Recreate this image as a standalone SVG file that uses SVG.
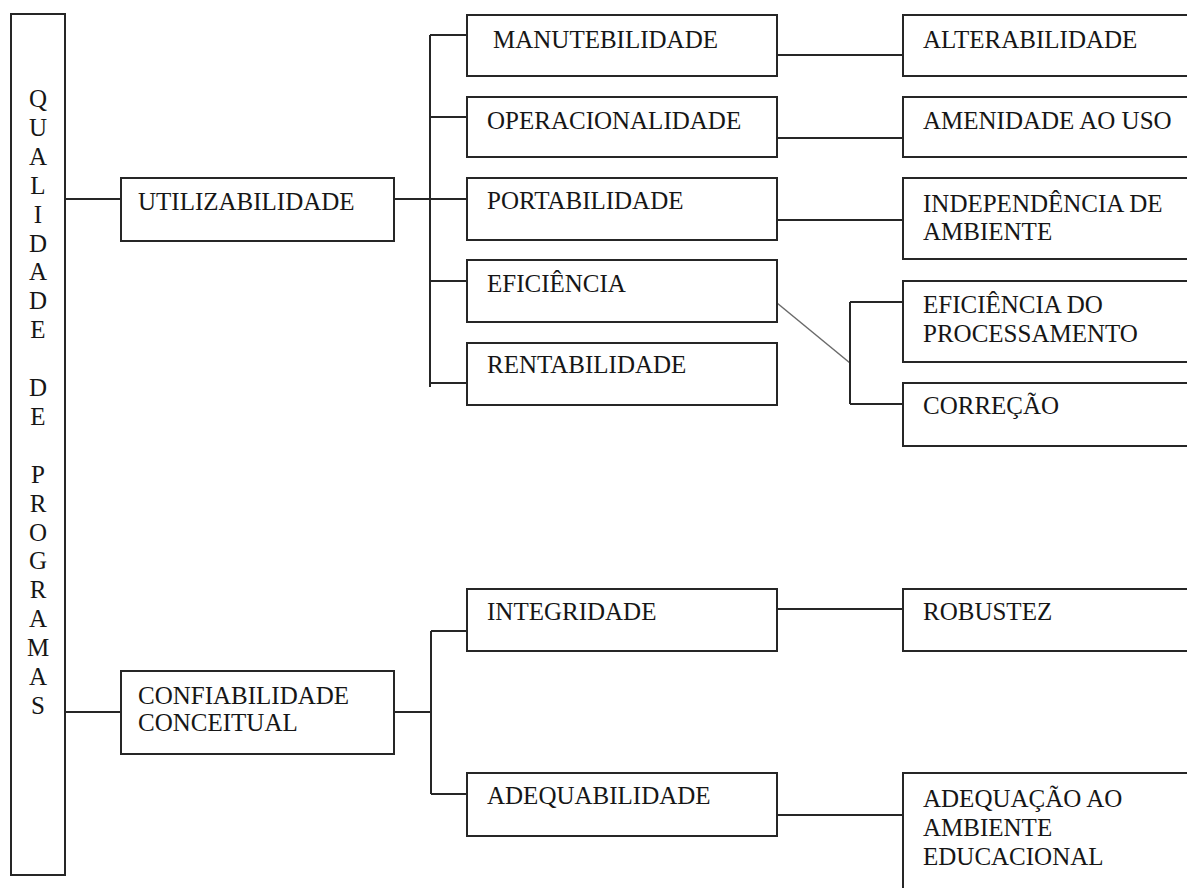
<svg xmlns="http://www.w3.org/2000/svg" width="1187" height="888" viewBox="0 0 1187 888">
<style>
.box{fill:#fff;stroke:#262626;stroke-width:2}
.t{font-family:"Liberation Serif","Times New Roman",serif;font-size:25px;fill:#161616}
.v{font-family:"Liberation Serif","Times New Roman",serif;font-size:25px;fill:#161616;text-anchor:middle}
.c{fill:none;stroke:#262626;stroke-width:2}
.d{fill:none;stroke:#6a6a6a;stroke-width:1.5}
</style>
<rect width="1187" height="888" fill="#fff"/>
<g id="connectors">
<path class="c" d="M65 199H121"/>
<path class="c" d="M65 712H121"/>
<path class="c" d="M394 199H467"/>
<path class="c" d="M430 35V387"/>
<path class="c" d="M430 35H467M430 117H467M430 281H467M430 383H467"/>
<path class="c" d="M777 55H903M777 138H903M777 220H903"/>
<path class="d" d="M777 303L850 363"/>
<path class="c" d="M850 302V404M850 302H903M850 404H903"/>
<path class="c" d="M394 712H431M431 631V794M431 631H467M431 794H467"/>
<path class="c" d="M777 609H903M777 815H903"/>
</g>
<g id="qualidade">
<rect class="box" x="11" y="14" width="54" height="861"/>
<text class="v" x="38" y="107">Q</text>
<text class="v" x="38" y="135.9">U</text>
<text class="v" x="38" y="164.8">A</text>
<text class="v" x="38" y="193.7">L</text>
<text class="v" x="38" y="222.6">I</text>
<text class="v" x="38" y="251.5">D</text>
<text class="v" x="38" y="280.4">A</text>
<text class="v" x="38" y="309.3">D</text>
<text class="v" x="38" y="338.2">E</text>
<text class="v" x="38" y="396">D</text>
<text class="v" x="38" y="424.9">E</text>
<text class="v" x="38" y="482.7">P</text>
<text class="v" x="38" y="511.6">R</text>
<text class="v" x="38" y="540.5">O</text>
<text class="v" x="38" y="569.4">G</text>
<text class="v" x="38" y="598.3">R</text>
<text class="v" x="38" y="627.2">A</text>
<text class="v" x="38" y="656.1">M</text>
<text class="v" x="38" y="685">A</text>
<text class="v" x="38" y="713.9">S</text>
</g>
<g id="utilizabilidade">
<rect class="box" x="121" y="178" width="273" height="63"/>
<text class="t" x="138" y="210">UTILIZABILIDADE</text>
</g>
<g id="confiabilidade">
<rect class="box" x="121" y="671" width="273" height="83"/>
<text class="t" x="138" y="704">CONFIABILIDADE</text>
<text class="t" x="138" y="731">CONCEITUAL</text>
</g>
<g id="manutebilidade">
<rect class="box" x="467" y="15" width="310" height="61"/>
<text class="t" x="493" y="48">MANUTEBILIDADE</text>
</g>
<g id="operacionalidade">
<rect class="box" x="467" y="97" width="310" height="60"/>
<text class="t" x="487" y="129">OPERACIONALIDADE</text>
</g>
<g id="portabilidade">
<rect class="box" x="467" y="178" width="310" height="62"/>
<text class="t" x="487" y="209">PORTABILIDADE</text>
</g>
<g id="eficiencia">
<rect class="box" x="467" y="260" width="310" height="62"/>
<text class="t" x="487" y="292">EFICIÊNCIA</text>
</g>
<g id="rentabilidade">
<rect class="box" x="467" y="343" width="310" height="62"/>
<text class="t" x="487" y="373">RENTABILIDADE</text>
</g>
<g id="integridade">
<rect class="box" x="467" y="589" width="310" height="62"/>
<text class="t" x="487" y="620">INTEGRIDADE</text>
</g>
<g id="adequabilidade">
<rect class="box" x="467" y="773" width="310" height="63"/>
<text class="t" x="487" y="804">ADEQUABILIDADE</text>
</g>
<g id="alterabilidade">
<rect class="box" x="903" y="15" width="300" height="61"/>
<text class="t" x="923" y="48">ALTERABILIDADE</text>
</g>
<g id="amenidade">
<rect class="box" x="903" y="97" width="300" height="60"/>
<text class="t" x="923" y="129">AMENIDADE AO USO</text>
</g>
<g id="independencia">
<rect class="box" x="903" y="178" width="300" height="81"/>
<text class="t" x="923" y="212">INDEPENDÊNCIA DE</text>
<text class="t" x="923" y="240">AMBIENTE</text>
</g>
<g id="eficiencia-processamento">
<rect class="box" x="903" y="281" width="300" height="81"/>
<text class="t" x="923" y="313">EFICIÊNCIA DO</text>
<text class="t" x="923" y="342">PROCESSAMENTO</text>
</g>
<g id="correcao">
<rect class="box" x="903" y="383" width="300" height="63"/>
<text class="t" x="923" y="414">CORREÇÃO</text>
</g>
<g id="robustez">
<rect class="box" x="903" y="589" width="300" height="62"/>
<text class="t" x="923" y="620">ROBUSTEZ</text>
</g>
<g id="adequacao">
<rect class="box" x="903" y="773" width="300" height="130"/>
<text class="t" x="923" y="807">ADEQUAÇÃO AO</text>
<text class="t" x="923" y="836">AMBIENTE</text>
<text class="t" x="923" y="865">EDUCACIONAL</text>
</g>
</svg>
